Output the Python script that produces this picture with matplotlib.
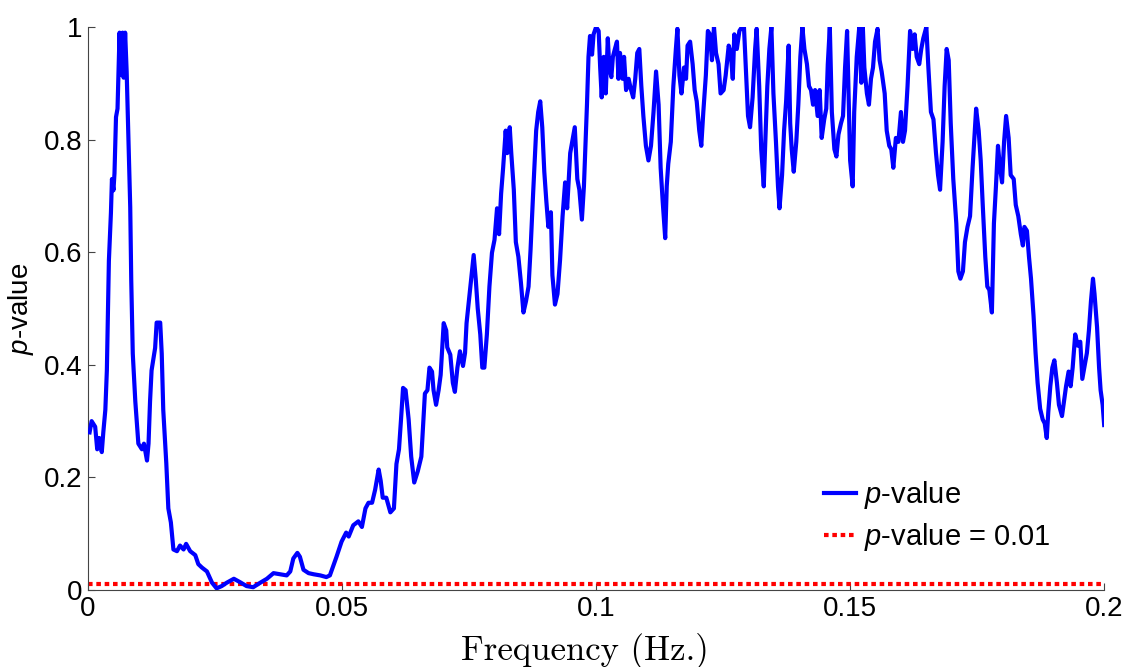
import numpy as np
import matplotlib
matplotlib.use('Agg')
import matplotlib.pyplot as plt

# ── Data ───────────────────────────────────────────────────────────────────────
freq = [
    0.0003, 0.0007, 0.0014, 0.0018, 0.0022, 0.0027, 0.0030, 0.0034, 0.0037, 0.0039,
    0.0041, 0.0045, 0.0047, 0.0050, 0.0052, 0.0055, 0.0058, 0.0062, 0.0064, 0.0068,
    0.0070, 0.0073, 0.0076, 0.0079, 0.0083, 0.0085, 0.0088, 0.0093, 0.0099, 0.0106,
    0.0110, 0.0116, 0.0119, 0.0122, 0.0125, 0.0132, 0.0135, 0.0142, 0.0145, 0.0148,
    0.0154, 0.0158, 0.0163, 0.0168, 0.0175, 0.0181, 0.0188, 0.0193, 0.0201, 0.0211,
    0.0217, 0.0224, 0.0234, 0.0244, 0.0253, 0.0263, 0.0273, 0.0287, 0.0299, 0.0312,
    0.0325, 0.0339, 0.0352, 0.0365, 0.0378, 0.0391, 0.0398, 0.0404, 0.0412, 0.0417,
    0.0424, 0.0434, 0.0444, 0.0457, 0.0469,
    0.0476, 0.0489, 0.0499, 0.0508, 0.0513, 0.0522, 0.0532, 0.0539, 0.0546, 0.0552,
    0.0559, 0.0565, 0.0572, 0.0576, 0.0580, 0.0587, 0.0595, 0.0602, 0.0607, 0.0612,
    0.0616, 0.0620, 0.0625, 0.0631, 0.0636, 0.0642, 0.0649, 0.0656, 0.0660, 0.0663,
    0.0668, 0.0672, 0.0677, 0.0680, 0.0685, 0.0690, 0.0694, 0.0700, 0.0705, 0.0707,
    0.0713, 0.0718, 0.0722, 0.0727, 0.0732, 0.0738, 0.0742, 0.0745, 0.0751, 0.0754,
    0.0759, 0.0763, 0.0767, 0.0772, 0.0776, 0.0780, 0.0785, 0.0790, 0.0795, 0.0800,
    0.0805, 0.0809, 0.0813, 0.0817, 0.0822, 0.0825, 0.0830, 0.0833, 0.0838, 0.0842,
    0.0847, 0.0852, 0.0857, 0.0862, 0.0867, 0.0871, 0.0876, 0.0882, 0.0886, 0.0890,
    0.0894, 0.0898, 0.0902, 0.0906, 0.0911, 0.0914, 0.0919, 0.0924, 0.0929, 0.0934,
    0.0939, 0.0943, 0.0949, 0.0953, 0.0958, 0.0963, 0.0967, 0.0972, 0.0976,
    0.0982, 0.0985, 0.0988, 0.0992, 0.0995, 0.1000, 0.1005, 0.1008, 0.1011, 0.1015,
    0.1019, 0.1023, 0.1026, 0.1030, 0.1033, 0.1037, 0.1041, 0.1044, 0.1047, 0.1052,
    0.1055, 0.1059, 0.1064, 0.1068, 0.1073, 0.1077, 0.1081, 0.1085, 0.1089, 0.1093,
    0.1098, 0.1103, 0.1108, 0.1113, 0.1118, 0.1123, 0.1127, 0.1131, 0.1136, 0.1139,
    0.1142, 0.1147, 0.1152, 0.1157, 0.1160, 0.1164, 0.1168, 0.1173, 0.1177, 0.1180,
    0.1185, 0.1190, 0.1194, 0.1198, 0.1203, 0.1207, 0.1211, 0.1216, 0.1220, 0.1224,
    0.1228, 0.1232, 0.1236, 0.1241, 0.1245, 0.1251, 0.1255, 0.1261, 0.1265, 0.1269,
    0.1272, 0.1277, 0.1282, 0.1287, 0.1291, 0.1295, 0.1299, 0.1303, 0.1308, 0.1313,
    0.1316, 0.1321, 0.1325, 0.1330, 0.1333, 0.1337, 0.1341, 0.1345, 0.1349, 0.1354,
    0.1358, 0.1361, 0.1366, 0.1370, 0.1374, 0.1379, 0.1382, 0.1385, 0.1389, 0.1394,
    0.1398, 0.1402, 0.1406, 0.1410, 0.1415, 0.1419, 0.1423, 0.1427, 0.1431, 0.1436,
    0.1440, 0.1444, 0.1449, 0.1453, 0.1456, 0.1460, 0.1464, 0.1469, 0.1473, 0.1477,
    0.1482, 0.1486, 0.1490, 0.1494, 0.1497, 0.1500, 0.1505,
    0.1508, 0.1513, 0.1518, 0.1522, 0.1525, 0.1528, 0.1533, 0.1537, 0.1541, 0.1545,
    0.1549, 0.1554, 0.1558, 0.1562, 0.1568, 0.1572, 0.1577, 0.1581, 0.1585, 0.1590,
    0.1595, 0.1600, 0.1604, 0.1608, 0.1613, 0.1618, 0.1623, 0.1627, 0.1631, 0.1636,
    0.1640, 0.1644, 0.1650, 0.1654, 0.1659, 0.1664, 0.1669, 0.1673, 0.1677, 0.1682,
    0.1686, 0.1690, 0.1694, 0.1698, 0.1703, 0.1709, 0.1713, 0.1717, 0.1722, 0.1726,
    0.1731, 0.1736, 0.1741, 0.1745, 0.1748, 0.1753, 0.1757, 0.1761, 0.1766, 0.1770,
    0.1774, 0.1779, 0.1783, 0.1787, 0.1791, 0.1795, 0.1799, 0.1803, 0.1807, 0.1812,
    0.1816, 0.1822, 0.1826, 0.1831, 0.1836, 0.1840, 0.1843, 0.1848, 0.1852, 0.1856,
    0.1861, 0.1865, 0.1869, 0.1874, 0.1879, 0.1883, 0.1887, 0.1890, 0.1894, 0.1898,
    0.1902, 0.1907, 0.1911, 0.1917, 0.1921, 0.1925, 0.1930, 0.1934, 0.1938, 0.1943,
    0.1948, 0.1953, 0.1957, 0.1961, 0.1966, 0.1970, 0.1974, 0.1978, 0.1981, 0.1986,
    0.1990, 0.1993, 0.1997, 0.2000,
]
pval = [
    0.280, 0.300, 0.290, 0.250, 0.270, 0.245, 0.280, 0.320, 0.390, 0.490,
    0.585, 0.670, 0.730, 0.710, 0.740, 0.840, 0.855, 0.990, 0.915, 0.990,
    0.910, 0.990, 0.920, 0.820, 0.680, 0.550, 0.420, 0.335, 0.260, 0.250,
    0.260, 0.230, 0.260, 0.335, 0.390, 0.430, 0.475, 0.475, 0.420, 0.320,
    0.225, 0.145, 0.120, 0.072, 0.069, 0.079, 0.072, 0.082, 0.069, 0.062,
    0.046, 0.040, 0.033, 0.013, 0.003, 0.007, 0.013, 0.020, 0.014, 0.007,
    0.005, 0.013, 0.020, 0.030, 0.028, 0.026, 0.033, 0.056, 0.066, 0.059,
    0.036, 0.030, 0.028, 0.026, 0.023,
    0.026, 0.059, 0.086, 0.102, 0.095, 0.115, 0.122, 0.112, 0.145, 0.155,
    0.155, 0.178, 0.214, 0.194, 0.164, 0.164, 0.138, 0.145, 0.224, 0.250,
    0.303, 0.359, 0.355, 0.303, 0.237, 0.191, 0.211, 0.237, 0.303, 0.349,
    0.355, 0.395, 0.388, 0.355, 0.329, 0.355, 0.382, 0.474, 0.461, 0.431,
    0.418, 0.368, 0.352, 0.395, 0.424, 0.398, 0.421, 0.474, 0.526, 0.553,
    0.595, 0.553, 0.500, 0.454, 0.395, 0.395, 0.454, 0.539, 0.599, 0.622,
    0.678, 0.632, 0.704, 0.750, 0.816, 0.776, 0.822, 0.776, 0.711, 0.618,
    0.592, 0.546, 0.493, 0.513, 0.539, 0.605, 0.704, 0.816, 0.849, 0.868,
    0.822, 0.743, 0.691, 0.645, 0.671, 0.559, 0.507, 0.526, 0.586, 0.664,
    0.724, 0.678, 0.776, 0.796, 0.822, 0.730, 0.711, 0.658, 0.717,
    0.862, 0.947, 0.984, 0.951, 0.987, 1.000, 0.993, 0.928, 0.875, 0.947,
    0.882, 0.980, 0.928, 0.911, 0.947, 0.961, 0.974, 0.908, 0.954, 0.908,
    0.947, 0.888, 0.908, 0.891, 0.875, 0.908, 0.954, 0.961, 0.895, 0.842,
    0.789, 0.763, 0.789, 0.849, 0.921, 0.862, 0.750, 0.691, 0.625, 0.717,
    0.757, 0.796, 0.895, 0.961, 0.997, 0.914, 0.882, 0.928, 0.908, 0.967,
    0.974, 0.934, 0.888, 0.868, 0.816, 0.789, 0.849, 0.914, 0.993, 0.987,
    0.941, 1.000, 0.954, 0.934, 0.882, 0.888, 0.914, 0.967, 0.954, 0.908,
    0.987, 0.961, 0.993, 1.000, 1.000, 0.921, 0.842, 0.822, 0.875, 0.961,
    0.997, 0.895, 0.783, 0.717, 0.796, 0.895, 0.961, 1.000, 0.882, 0.796,
    0.717, 0.678, 0.737, 0.816, 0.868, 0.967, 0.829, 0.783, 0.743, 0.796,
    0.862, 0.947, 1.000, 0.961, 0.934, 0.895, 0.888, 0.862, 0.888, 0.842,
    0.888, 0.803, 0.836, 0.855, 0.934, 1.000, 0.849, 0.783, 0.770, 0.809,
    0.829, 0.842, 0.928, 0.993, 0.882, 0.763, 0.717,
    0.849, 0.947, 1.000, 0.901, 1.000, 0.928, 0.882, 0.862, 0.908, 0.928,
    0.974, 0.997, 0.941, 0.921, 0.882, 0.816, 0.789, 0.783, 0.750, 0.803,
    0.796, 0.849, 0.796, 0.816, 0.895, 0.993, 0.961, 0.987, 0.947, 0.934,
    0.961, 0.980, 1.000, 0.928, 0.849, 0.836, 0.776, 0.737, 0.711, 0.796,
    0.895, 0.961, 0.941, 0.829, 0.730, 0.651, 0.566, 0.553, 0.566, 0.618,
    0.645, 0.664, 0.750, 0.809, 0.855, 0.816, 0.763, 0.684, 0.592, 0.539,
    0.533, 0.493, 0.651, 0.717, 0.789, 0.750, 0.724, 0.796, 0.842, 0.803,
    0.737, 0.730, 0.684, 0.664, 0.632, 0.612, 0.645, 0.638, 0.592, 0.553,
    0.487, 0.421, 0.368, 0.322, 0.303, 0.296, 0.270, 0.316, 0.362, 0.395,
    0.408, 0.368, 0.329, 0.309, 0.336, 0.362, 0.388, 0.362, 0.395, 0.454,
    0.434, 0.441, 0.375, 0.395, 0.421, 0.461, 0.513, 0.553, 0.526, 0.467,
    0.395, 0.355, 0.329, 0.293,
]
threshold = 0.01

xticks = [0, 0.05, 0.1, 0.15, 0.2]
xticklabels = ['0', '0.05', '0.1', '0.15', '0.2']
yticks = [0, 0.2, 0.4, 0.6, 0.8, 1]
yticklabels = ['0', '0.2', '0.4', '0.6', '0.8', '1']

# ── Style ──────────────────────────────────────────────────────────────────────
plt.rcParams['font.family'] = 'Liberation Sans'
plt.rcParams['mathtext.fontset'] = 'custom'
plt.rcParams['mathtext.rm'] = 'Liberation Sans'
plt.rcParams['mathtext.it'] = 'Liberation Sans:italic'

fig = plt.figure(figsize=(11.29, 6.67), dpi=100)
ax = fig.add_axes([0.078, 0.1154, 0.900, 0.8441])

ax.plot(freq, pval, color='#0000FF', linewidth=3.0, label=r'$p$-value', zorder=3)
ax.axhline(threshold, color='#FF0000', linewidth=3.0, linestyle=(0, (1.1, 0.9)),
           label=r'$p$-value = 0.01', zorder=2)

ax.set_xlim(0, 0.2)
ax.set_ylim(0, 1)
ax.set_xticks(xticks)
ax.set_xticklabels(xticklabels)
ax.set_yticks(yticks)
ax.set_yticklabels(yticklabels)
ax.tick_params(direction='in', length=5, width=0.8, color='#444444',
               labelsize=20, pad=4)

for side in ['top', 'right']:
    ax.spines[side].set_visible(False)
for side in ['left', 'bottom']:
    ax.spines[side].set_color('#444444')
    ax.spines[side].set_linewidth(0.8)

ax.set_ylabel(r'$p$-value', fontsize=20, labelpad=6)
# x label in Computer Modern, sitting low so it runs off the bottom edge
ax.set_xlabel('Frequency (Hz.)', fontsize=25, fontfamily='cmr10')
ax.xaxis.set_label_coords(0.489, -0.077, transform=ax.transAxes)
ax.xaxis.label.set_va('top')

ax.legend(loc='lower left', bbox_to_anchor=(0.698, 0.019), frameon=False,
          fontsize=21, handlelength=1.1, handletextpad=0.3, labelspacing=0.35)

fig.savefig('out.png', dpi=100)
